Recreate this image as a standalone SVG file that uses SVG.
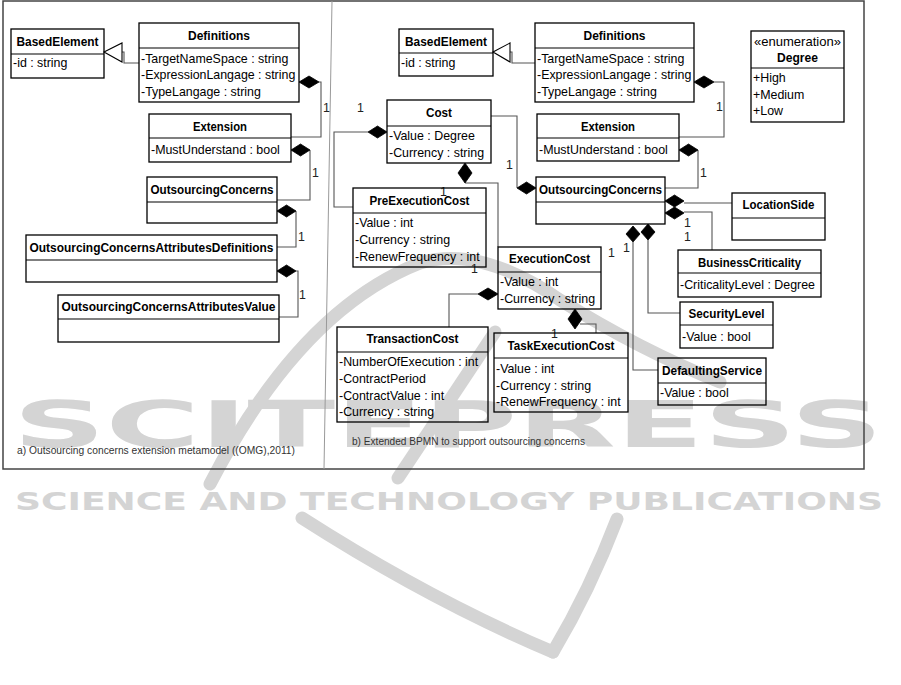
<svg xmlns="http://www.w3.org/2000/svg" width="901" height="685" viewBox="0 0 901 685">
<style>
.box{fill:none;stroke:#000;stroke-width:1.3}
.div{stroke:#000;stroke-width:1.1}
.t{font-family:"Liberation Sans",Arial,sans-serif;font-size:12.4px;fill:#000}
.b{font-family:"Liberation Sans",Arial,sans-serif;font-size:12.4px;font-weight:bold;fill:#000;text-anchor:middle}
.c{fill:none;stroke:#555;stroke-width:1.1}
.dia{fill:#000;stroke:#000;stroke-width:0.8}
.tri{fill:#fff;stroke:#000;stroke-width:1.1}
.m{font-family:"Liberation Sans",Arial,sans-serif;font-size:12.4px;fill:#222}
.cap{font-family:"Liberation Sans",Arial,sans-serif;font-size:10px;fill:#333}
.wm{fill:#d4d4d4;font-family:"DejaVu Sans",sans-serif;font-weight:bold}
.wl{fill:none;stroke:#d4d4d4;stroke-width:13;stroke-linecap:round}
</style>
<rect width="901" height="685" fill="#fff"/>
<g id="watermark">
<path class="wl" d="M210 484 Q300 310 420 263 Q480 245 560 300 Q640 350 720 382"/>
<path class="wl" d="M495 332 L398 478"/>
<path class="wl" d="M302 518 Q430 600 553 652"/>
<path class="wl" d="M617 519 Q590 590 553 652"/>
<text class="wm" x="13" y="447" font-size="64" textLength="870" lengthAdjust="spacingAndGlyphs">SCITEPRESS</text>
<text class="wm" x="15" y="510" font-size="25" textLength="868" lengthAdjust="spacingAndGlyphs">SCIENCE AND TECHNOLOGY PUBLICATIONS</text>
</g>
<g id="frame">
<rect x="3" y="1" width="861" height="468" fill="none" stroke="#444" stroke-width="1.5"/>
<path d="M332 1 L324 469" stroke="#999" stroke-width="1" fill="none"/>
</g>
<g id="connectors">
<path class="c" d="M122 52 H124 V63 H139"/>
<polygon class="tri" points="104,52 122,43 122,62"/>
<path class="c" d="M319 82 H321 V137 H291"/>
<polygon class="dia" points="299,82 309,76 319,82 309,88"/>
<path class="c" d="M310 150 V200 H277"/>
<polygon class="dia" points="291,150 300.5,144 310,150 300.5,156"/>
<path class="c" d="M296 211 V247 H277"/>
<polygon class="dia" points="277,211 286.5,205 296,211 286.5,217"/>
<path class="c" d="M296 271 H298 V317 H279"/>
<polygon class="dia" points="277,271 286.5,265 296,271 286.5,277"/>
<text class="m" x="323" y="112">1</text>
<text class="m" x="312" y="177">1</text>
<text class="m" x="298" y="241">1</text>
<text class="m" x="299" y="299">1</text>
<path class="c" d="M510 52 H512 V63 H535"/>
<polygon class="tri" points="493,52 510,43 510,62"/>
<path class="c" d="M714 82 H724 V137 H679"/>
<polygon class="dia" points="694,82 704,76 714,82 704,88"/>
<path class="c" d="M698 150 V188 H665"/>
<polygon class="dia" points="679,150 688.5,144 698,150 688.5,156"/>
<path class="c" d="M517 188 V116 H491"/>
<polygon class="dia" points="517,188 526.5,182 536,188 526.5,194"/>
<path class="c" d="M368 132 H334 V207 H353"/>
<polygon class="dia" points="368,132 377.5,126 387,132 377.5,138"/>
<path class="c" d="M465 183 H498 V247"/>
<polygon class="dia" points="465,163 472,173 465,183 458,173"/>
<path class="c" d="M478 294 H449 V327"/>
<polygon class="dia" points="478,294 488,288 498,294 488,300"/>
<path class="c" d="M580 324 H596 V333"/>
<polygon class="dia" points="575,309 582,319 575,329 568,319"/>
<path class="c" d="M684 203 H732"/>
<polygon class="dia" points="665,201 674.5,195 684,201 674.5,207"/>
<path class="c" d="M684 212 H712 V250"/>
<polygon class="dia" points="665,213 674.5,207 684,213 674.5,219"/>
<path class="c" d="M648 240 V313 H680"/>
<polygon class="dia" points="648,224 655,232 648,240 641,232"/>
<path class="c" d="M633 242 V370 H658"/>
<polygon class="dia" points="633,226 640,234 633,242 626,234"/>
<text class="m" x="716" y="111">1</text>
<text class="m" x="700" y="177">1</text>
<text class="m" x="506" y="169">1</text>
<text class="m" x="357" y="112">1</text>
<text class="m" x="440" y="196">1</text>
<text class="m" x="471" y="273">1</text>
<text class="m" x="551" y="338">1</text>
<text class="m" x="684" y="227">1</text>
<text class="m" x="684" y="241">1</text>
<text class="m" x="608" y="257">1</text>
<text class="m" x="623" y="252">1</text>
</g>
<g id="a-BasedElement">
<rect class="box" x="11" y="29" width="93" height="49"/><line class="div" x1="11" y1="54" x2="104" y2="54"/>
<text class="b" x="57.5" y="46" textLength="82" lengthAdjust="spacingAndGlyphs">BasedElement</text>
<text class="t" x="13" y="67">-id : string</text>
</g>
<g id="a-Definitions">
<rect class="box" x="139" y="23" width="160" height="79"/><line class="div" x1="139" y1="48" x2="299" y2="48"/>
<text class="b" x="219" y="40" textLength="62" lengthAdjust="spacingAndGlyphs">Definitions</text>
<text class="t" x="141" y="63">-TargetNameSpace : string</text>
<text class="t" x="141" y="79">-ExpressionLangage : string</text>
<text class="t" x="141" y="96">-TypeLangage : string</text>
</g>
<g id="a-Extension">
<rect class="box" x="149" y="114" width="142" height="48"/><line class="div" x1="149" y1="138" x2="291" y2="138"/>
<text class="b" x="220" y="131" textLength="54" lengthAdjust="spacingAndGlyphs">Extension</text>
<text class="t" x="151" y="154">-MustUnderstand : bool</text>
</g>
<g id="a-OutsourcingConcerns">
<rect class="box" x="147" y="177" width="130" height="46"/><line class="div" x1="147" y1="202" x2="277" y2="202"/>
<text class="b" x="212" y="194" textLength="123" lengthAdjust="spacingAndGlyphs">OutsourcingConcerns</text>
</g>
<g id="a-OCAttributesDefinitions">
<rect class="box" x="26" y="235" width="251" height="47"/><line class="div" x1="26" y1="260" x2="277" y2="260"/>
<text class="b" x="151.5" y="252" textLength="244" lengthAdjust="spacingAndGlyphs">OutsourcingConcernsAttributesDefinitions</text>
</g>
<g id="a-OCAttributesValue">
<rect class="box" x="58" y="295" width="221" height="47"/><line class="div" x1="58" y1="319" x2="279" y2="319"/>
<text class="b" x="168.5" y="311" textLength="214" lengthAdjust="spacingAndGlyphs">OutsourcingConcernsAttributesValue</text>
</g>
<text class="cap" x="17" y="454" textLength="278" lengthAdjust="spacingAndGlyphs">a) Outsourcing concerns extension metamodel ((OMG),2011)</text>
<g id="b-BasedElement">
<rect class="box" x="399" y="29" width="94" height="47"/><line class="div" x1="399" y1="53" x2="493" y2="53"/>
<text class="b" x="446" y="46" textLength="82" lengthAdjust="spacingAndGlyphs">BasedElement</text>
<text class="t" x="401" y="67">-id : string</text>
</g>
<g id="b-Definitions">
<rect class="box" x="535" y="23" width="159" height="79"/><line class="div" x1="535" y1="48" x2="694" y2="48"/>
<text class="b" x="614.5" y="40" textLength="62" lengthAdjust="spacingAndGlyphs">Definitions</text>
<text class="t" x="537" y="63">-TargetNameSpace : string</text>
<text class="t" x="537" y="79">-ExpressionLangage : string</text>
<text class="t" x="537" y="96">-TypeLangage : string</text>
</g>
<g id="b-Extension">
<rect class="box" x="537" y="114" width="142" height="47"/><line class="div" x1="537" y1="138" x2="679" y2="138"/>
<text class="b" x="608" y="131" textLength="54" lengthAdjust="spacingAndGlyphs">Extension</text>
<text class="t" x="539" y="154">-MustUnderstand : bool</text>
</g>
<g id="b-Degree">
<rect class="box" x="751" y="31" width="93" height="91"/><line class="div" x1="751" y1="68" x2="844" y2="68"/>
<text class="t" x="797.5" y="46" text-anchor="middle" textLength="87" lengthAdjust="spacingAndGlyphs">«enumeration»</text>
<text class="b" x="797.5" y="62" textLength="41" lengthAdjust="spacingAndGlyphs">Degree</text>
<text class="t" x="753" y="82">+High</text>
<text class="t" x="753" y="99">+Medium</text>
<text class="t" x="753" y="115">+Low</text>
</g>
<g id="b-OutsourcingConcerns">
<rect class="box" x="536" y="177" width="129" height="47"/><line class="div" x1="536" y1="202" x2="665" y2="202"/>
<text class="b" x="600.5" y="194" textLength="123" lengthAdjust="spacingAndGlyphs">OutsourcingConcerns</text>
</g>
<g id="b-LocationSide">
<rect class="box" x="732" y="193" width="93" height="47"/><line class="div" x1="732" y1="218" x2="825" y2="218"/>
<text class="b" x="778.5" y="209" textLength="72" lengthAdjust="spacingAndGlyphs">LocationSide</text>
</g>
<g id="b-BusinessCriticality">
<rect class="box" x="678" y="250" width="143" height="47"/><line class="div" x1="678" y1="273" x2="821" y2="273"/>
<text class="b" x="749.5" y="267" textLength="103" lengthAdjust="spacingAndGlyphs">BusinessCriticality</text>
<text class="t" x="680" y="289">-CriticalityLevel : Degree</text>
</g>
<g id="b-SecurityLevel">
<rect class="box" x="680" y="302" width="93" height="46"/><line class="div" x1="680" y1="325" x2="773" y2="325"/>
<text class="b" x="726.5" y="318" textLength="76" lengthAdjust="spacingAndGlyphs">SecurityLevel</text>
<text class="t" x="682" y="341">-Value : bool</text>
</g>
<g id="b-DefaultingService">
<rect class="box" x="658" y="358" width="108" height="47"/><line class="div" x1="658" y1="383" x2="766" y2="383"/>
<text class="b" x="712" y="375" textLength="100" lengthAdjust="spacingAndGlyphs">DefaultingService</text>
<text class="t" x="660" y="397">-Value : bool</text>
</g>
<g id="b-Cost">
<rect class="box" x="387" y="100" width="104" height="63"/><line class="div" x1="387" y1="126" x2="491" y2="126"/>
<text class="b" x="439" y="117" textLength="26" lengthAdjust="spacingAndGlyphs">Cost</text>
<text class="t" x="389" y="140">-Value : Degree</text>
<text class="t" x="389" y="157">-Currency : string</text>
</g>
<g id="b-PreExecutionCost">
<rect class="box" x="353" y="188" width="133" height="79"/><line class="div" x1="353" y1="213" x2="486" y2="213"/>
<text class="b" x="419.5" y="205" textLength="100" lengthAdjust="spacingAndGlyphs">PreExecutionCost</text>
<text class="t" x="355" y="227">-Value : int</text>
<text class="t" x="355" y="244">-Currency : string</text>
<text class="t" x="355" y="261">-RenewFrequency : int</text>
</g>
<g id="b-ExecutionCost">
<rect class="box" x="498" y="247" width="103" height="62"/><line class="div" x1="498" y1="272" x2="601" y2="272"/>
<text class="b" x="549.5" y="263" textLength="81" lengthAdjust="spacingAndGlyphs">ExecutionCost</text>
<text class="t" x="500" y="286">-Value : int</text>
<text class="t" x="500" y="303">-Currency : string</text>
</g>
<g id="b-TransactionCost">
<rect class="box" x="337" y="327" width="151" height="95"/><line class="div" x1="337" y1="352" x2="488" y2="352"/>
<text class="b" x="412.5" y="343" textLength="92" lengthAdjust="spacingAndGlyphs">TransactionCost</text>
<text class="t" x="339" y="366">-NumberOfExecution : int</text>
<text class="t" x="339" y="383">-ContractPeriod</text>
<text class="t" x="339" y="400">-ContractValue : int</text>
<text class="t" x="339" y="416">-Currency : string</text>
</g>
<g id="b-TaskExecutionCost">
<rect class="box" x="494" y="333" width="134" height="79"/><line class="div" x1="494" y1="358" x2="628" y2="358"/>
<text class="b" x="561" y="350" textLength="107" lengthAdjust="spacingAndGlyphs">TaskExecutionCost</text>
<text class="t" x="496" y="373">-Value : int</text>
<text class="t" x="496" y="390">-Currency : string</text>
<text class="t" x="496" y="406">-RenewFrequency : int</text>
</g>
<text class="cap" x="352" y="445" textLength="233" lengthAdjust="spacingAndGlyphs">b) Extended BPMN to support outsourcing concerns</text>
</svg>
